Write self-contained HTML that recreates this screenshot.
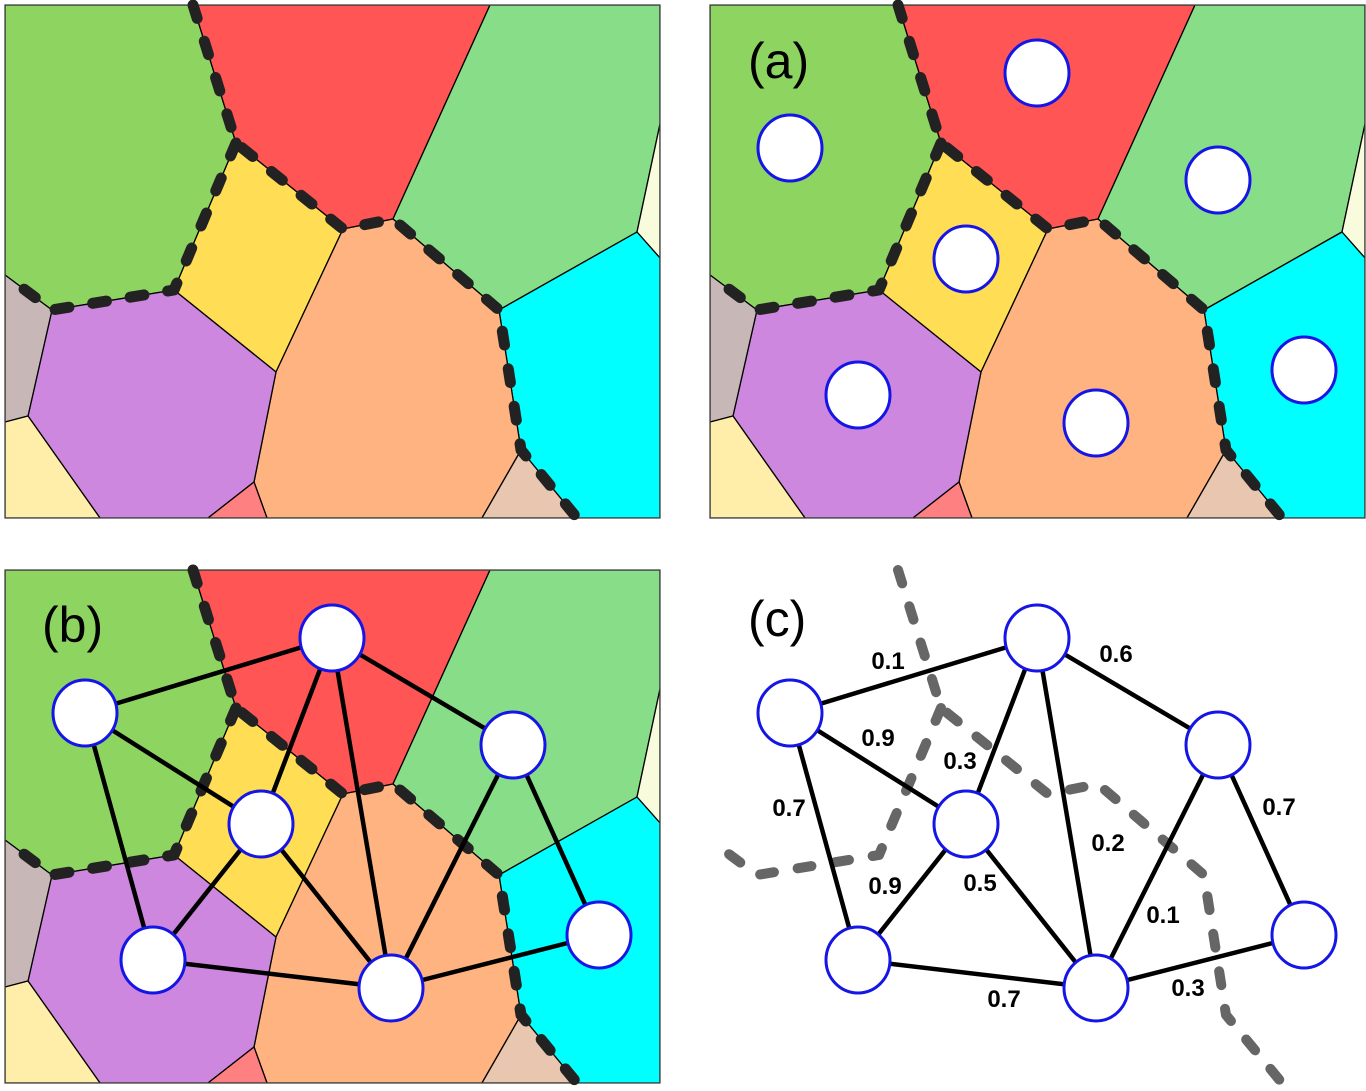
<!DOCTYPE html>
<html><head><meta charset="utf-8"><style>
html,body{margin:0;padding:0;background:#fff;}
svg{display:block;}
text{font-family:"Liberation Sans","DejaVu Sans",sans-serif;}
</style></head><body>
<svg id="fig" width="1366" height="1091" viewBox="0 0 1366 1091">
  <defs>
    <clipPath id="pclip"><rect x="5" y="5" width="655" height="513"/></clipPath>
  </defs>
</svg>
<script>
// ----- data -----
const cellNames = ['darkgreen','red','lightgreen','lightyellow','cyan','yellow','peach','tan','purple','salmon','mauve','paleyellow'];
const cellColors = ['#8ed460','#ff5555','#88dd88','#f9fcdc','#00ffff','#ffdd55','#ffb380','#e9c6af','#cd87de','#ff8080','#c8b7b7','#ffeeaa'];
const cellPolys = [
 [[5,5],[193,5],[236,143],[174,290],[52,310],[5,275]],
 [[193,5],[490,5],[393,219],[343,229],[236,143]],
 [[490,5],[660,5],[660,124],[637,232],[499,310],[393,219]],
 [[660,124],[637,232],[660,258]],
 [[637,232],[660,258],[660,518],[577,518],[521,450],[499,310]],
 [[236,143],[343,229],[276,372],[174,290]],
 [[343,229],[393,219],[499,310],[521,450],[482,518],[267,518],[254,482],[276,372]],
 [[521,450],[577,518],[482,518]],
 [[52,310],[174,290],[276,372],[254,482],[208,518],[100,518],[28,416]],
 [[254,482],[267,518],[208,518]],
 [[5,275],[52,310],[28,416],[5,422]],
 [[5,422],[28,416],[100,518],[5,518]]
];
const cutA = [[193,5],[236,143],[343,229],[393,219],[499,310],[521,450],[577,518]];
const cutB = [[236,143],[174,290],[52,310],[5,275]];
// graph nodes (panel base coords, relative to top-left panel)
const nodeX = [85,332,513,261,153,391,599];
const nodeY = [148,73,180,259,395,423,370];
const edgeFrom = [0,0,0,1,1,1,2,2,3,3,4,5];
const edgeTo   = [1,3,4,3,5,2,5,6,4,5,5,6];
const weights  = ['0.1','0.9','0.7','0.3','0.2','0.6','0.1','0.7','0.9','0.5','0.7','0.3'];
const weightX  = [888,878,789,960,1108,1116,1163,1279,885,980,1004,1188];
const weightY  = [669,746,816,769,851,662,923,815,894,891,1007,996];

const NS='http://www.w3.org/2000/svg';
const svg=document.getElementById('fig');
function mk(tag,attrs,parent){const e=document.createElementNS(NS,tag);for(const k in attrs)e.setAttribute(k,attrs[k]);parent.appendChild(e);return e;}
function pts(a){return a.map(p=>p.join(',')).join(' ');}

function drawCells(dx,dy,withCut){
  const g=mk('g',{transform:`translate(${dx},${dy})`},svg);
  
  
  const cg=mk('g',{'clip-path':'url(#pclip)'},g);
  cellPolys.forEach((p,i)=>{
    const el=mk('polygon',{points:pts(p),fill:cellColors[i],stroke:'#000','stroke-width':1.3,'stroke-linejoin':'round'},cg);
    
    
  });
  const fr=mk('rect',{x:5,y:5,width:655,height:513,fill:'none',stroke:'#444','stroke-width':1.3},g);
  
  
  if(withCut) drawCut(g,'#222',11);
  return g;
}
function drawCut(g,color,w){
  [cutA,cutB].forEach((c,i)=>{
    const el=mk('polyline',{points:pts(c),fill:'none',stroke:color,'stroke-width':w,'stroke-linecap':'round','stroke-linejoin':'round','stroke-dasharray':'14 24'},g);
    
    
  });
}
function drawNodes(g){
  nodeX.forEach((x,i)=>{
    const c=mk('ellipse',{cx:x,cy:nodeY[i],rx:32,ry:33,fill:'#fff',stroke:'#1515e6','stroke-width':3},g);
    
    
  });
}
function drawEdges(g){
  edgeFrom.forEach((f,i)=>{
    const t=edgeTo[i];
    const l=mk('line',{x1:nodeX[f],y1:nodeY[f],x2:nodeX[t],y2:nodeY[t],stroke:'#000','stroke-width':4.5},g);
    
    
  });
}
function label(txt,x,y,name){
  const t=mk('text',{x:x,y:y,'font-size':50,fill:'#000'},svg);
  t.textContent=txt;
  
  
}

drawCells(0,0,true);
const ga=drawCells(705,0,true);
drawNodes(ga);
label('(a)',748,78,'label-a');
const gb=drawCells(0,565,true);
drawEdges(gb);
drawNodes(gb);
label('(b)',42,642,'label-b');
const gc=mk('g',{transform:'translate(705,565)'},svg);


drawCut(gc,'#666',10);
drawEdges(gc);
drawNodes(gc);
label('(c)',748,636,'label-c');
weights.forEach((w,i)=>{
  const t=mk('text',{x:weightX[i],y:weightY[i],'font-size':24,'font-weight':'bold','text-anchor':'middle',fill:'#000'},svg);
  t.textContent=w;
  
  
});
</script>
</body></html>
